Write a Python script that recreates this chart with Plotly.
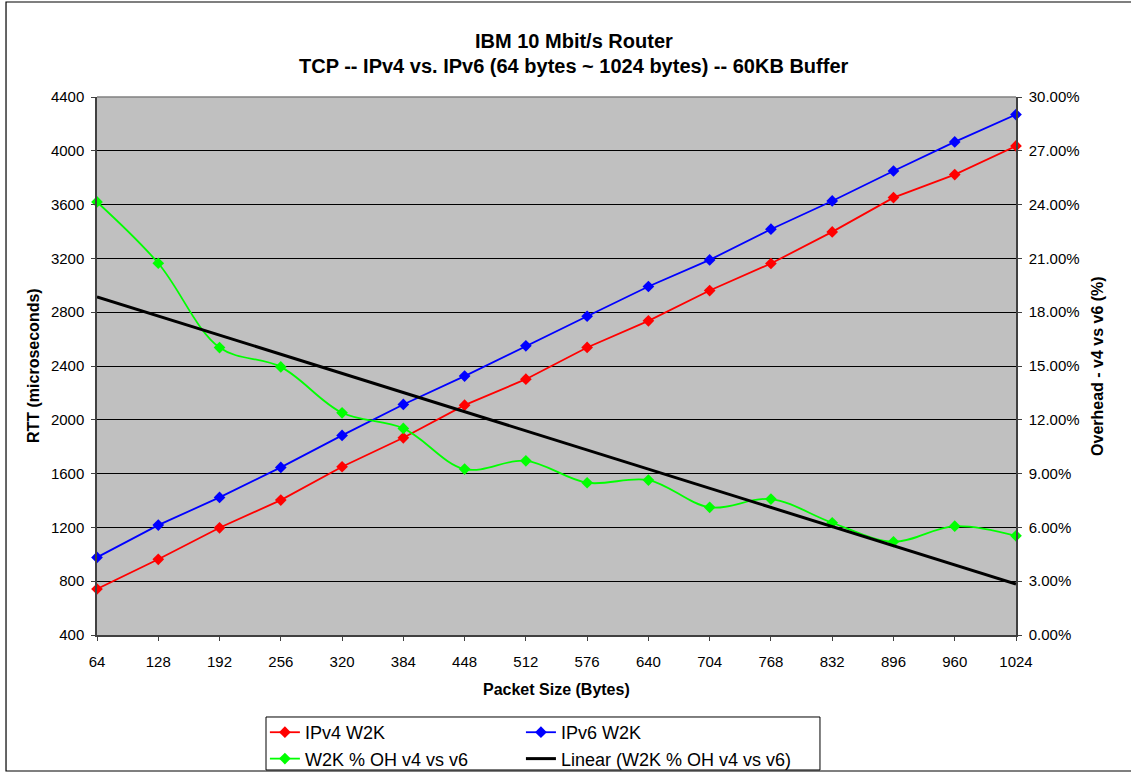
import numpy as np
import plotly.graph_objects as go

packet_sizes = [64, 128, 192, 256, 320, 384, 448, 512, 576, 640, 704, 768, 832, 896, 960, 1024]
ipv4_rtt = [742, 963, 1197, 1403, 1651, 1866, 2109, 2302, 2538, 2736, 2961, 3162, 3397, 3652, 3823, 4036]
ipv6_rtt = [977, 1217, 1423, 1646, 1884, 2114, 2325, 2550, 2770, 2991, 3189, 3417, 3627, 3850, 4066, 4269]
overhead_pct = [24.15, 20.73, 16.03, 14.95, 12.39, 11.52, 9.25, 9.71, 8.49, 8.64, 7.12, 7.58, 6.26, 5.20, 6.07, 5.53]

# Linear trendline (Excel-style, fitted on category index)
idx = np.arange(1, len(packet_sizes) + 1)
coef = np.polyfit(idx, overhead_pct, 1)
trend = np.polyval(coef, idx)

FONT = "Liberation Sans, Arial, sans-serif"

fig = go.Figure()
fig.add_trace(go.Scatter(
    x=packet_sizes, y=ipv4_rtt, name="IPv4 W2K", mode="lines+markers",
    line=dict(color="#FF0000", width=1.8),
    marker=dict(symbol="diamond", size=9, color="#FF0000"),
    cliponaxis=False, legend="legend"))
fig.add_trace(go.Scatter(
    x=packet_sizes, y=overhead_pct, name="W2K % OH v4 vs v6", mode="lines+markers",
    yaxis="y2", line=dict(color="#00FF00", width=1.8, shape="spline", smoothing=1),
    marker=dict(symbol="diamond", size=9, color="#00FF00"),
    cliponaxis=False, legend="legend"))
fig.add_trace(go.Scatter(
    x=packet_sizes, y=ipv6_rtt, name="IPv6 W2K", mode="lines+markers",
    line=dict(color="#0000FF", width=1.8),
    marker=dict(symbol="diamond", size=9, color="#0000FF"),
    cliponaxis=False, legend="legend2"))
fig.add_trace(go.Scatter(
    x=packet_sizes, y=trend, name="Linear (W2K % OH v4 vs v6)", mode="lines",
    yaxis="y2", line=dict(color="#000000", width=3),
    legend="legend2"))

# plot area: x 97..1016 px, y 97..635 px
fig.update_layout(
    width=1131, height=773,
    margin=dict(l=97, r=115, t=97, b=138),
    paper_bgcolor="white", plot_bgcolor="#C0C0C0",
    font=dict(family=FONT, size=15, color="black"),
    xaxis=dict(range=[64, 1024], tickvals=packet_sizes, ticks="outside", ticklen=4,
               tickcolor="#404040", showgrid=False, zeroline=False, showline=True,
               linecolor="#404040", linewidth=1.5, ticklabelstandoff=8,
               tickfont=dict(size=15)),
    yaxis=dict(range=[400, 4400], tick0=400, dtick=400, ticks="outside", ticklen=4,
               tickcolor="#404040", showgrid=True, gridcolor="black", gridwidth=1,
               zeroline=False, showline=True, linecolor="#404040", linewidth=1.5,
               ticklabelstandoff=4, tickfont=dict(size=15)),
    yaxis2=dict(range=[0, 30], tick0=0, dtick=3, tickformat=".2f", ticksuffix="%",
                overlaying="y", side="right", ticks="outside", ticklen=4,
                tickcolor="#404040", showgrid=False, zeroline=False, showline=True,
                linecolor="#404040", linewidth=1.5, ticklabelstandoff=4,
                tickfont=dict(size=15)),
    legend=dict(x=0.1827, xref="paper", y=0.0763, yref="container",
                xanchor="left", yanchor="top",
                bgcolor="rgba(0,0,0,0)", font=dict(size=18), tracegroupgap=0),
    legend2=dict(x=0.4613, xref="paper", y=0.0763, yref="container",
                 xanchor="left", yanchor="top",
                 bgcolor="rgba(0,0,0,0)", font=dict(size=18), tracegroupgap=0),
    showlegend=True,
)

annotations = [
    dict(text="<b>IBM 10 Mbit/s Router</b>", x=0.519, y=1.104, font=dict(size=20)),
    dict(text="<b>TCP -- IPv4 vs. IPv6 (64 bytes ~ 1024 bytes) -- 60KB Buffer</b>",
         x=0.519, y=1.0576, font=dict(size=20)),
    dict(text="<b>Packet Size (Bytes)</b>", x=0.5, y=-0.1022, font=dict(size=16)),
    dict(text="<b>RTT (microseconds)</b>", x=-0.0696, y=0.5, textangle=-90,
         font=dict(size=16)),
    dict(text="<b>Overhead - v4 vs v6 (%)</b>", x=1.0881, y=0.5, textangle=-90,
         font=dict(size=16)),
]
for a in annotations:
    a.update(xref="paper", yref="paper", showarrow=False,
             xanchor="center", yanchor="middle")
fig.update_layout(annotations=annotations)

fig.update_layout(shapes=[
    # top border of plot area
    dict(type="line", xref="paper", yref="paper", x0=0, x1=1, y0=1, y1=1,
         line=dict(color="#808080", width=1.5), layer="above"),
    # legend box
    dict(type="rect", xref="paper", yref="paper", x0=0.1839, x1=0.7867,
         y0=-0.2509, y1=-0.1524, line=dict(color="black", width=1)),
    # chart area border
    dict(type="rect", xref="paper", yref="paper", x0=-0.099, x1=1.13,
         y0=-0.2528, y1=1.1766, line=dict(color="black", width=1.2)),
])

fig.write_html("out.html")
